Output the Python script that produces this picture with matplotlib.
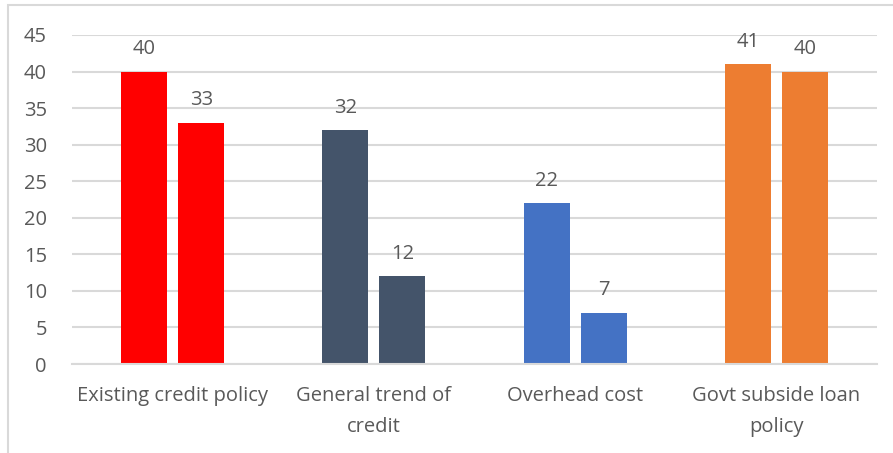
import matplotlib.pyplot as plt
import numpy as np

categories = ["Existing credit policy", "General trend of\ncredit", "Overhead cost", "Govt subside loan\npolicy"]
first_values = [40, 32, 22, 41]
second_values = [33, 12, 7, 40]
bar_colors = ["#FF0000", "#44546A", "#4472C4", "#ED7D31"]
y_ticks = list(range(0, 50, 5))

plt.rcParams['font.family'] = ['Open Sans', 'DejaVu Sans']
text_color = '#595959'
grid_color = '#D9D9D9'
fsize = 14.5

fig = plt.figure(figsize=(8.93, 4.53), dpi=100)
# chart border like the Excel frame
fig.patches.append(plt.Rectangle((8 / 893, -0.01), 1.0, 1.0 - 5.5 / 453 + 0.01,
                                 transform=fig.transFigure, fill=False,
                                 edgecolor=grid_color, linewidth=1.5))
ax = fig.add_axes([72 / 893, (453 - 364) / 453, (877 - 72) / 893, (364 - 35) / 453])

x = np.arange(len(categories))
width = 0.229
offset = 0.142

bars1 = ax.bar(x - offset, first_values, width, color=bar_colors, zorder=3)
bars2 = ax.bar(x + offset, second_values, width, color=bar_colors, zorder=3)

for bars in (bars1, bars2):
    for b in bars:
        ax.annotate(f"{int(b.get_height())}", (b.get_x() + b.get_width() / 2, b.get_height()),
                    xytext=(0, 9), textcoords='offset points', ha='center', va='bottom',
                    fontsize=fsize, color=text_color)

ax.set_xlim(-0.5, len(categories) - 0.5)
ax.set_ylim(0, 45)
ax.set_yticks(y_ticks)
ax.set_xticks(x)
ax.set_xticklabels(categories, fontsize=fsize, color=text_color, linespacing=1.7)
ax.tick_params(axis='y', labelsize=fsize, labelcolor=text_color, length=0, pad=18)
ax.tick_params(axis='x', length=0, pad=16)
for lbl in ax.get_yticklabels():
    lbl.set_horizontalalignment('right')

ax.grid(axis='y', color=grid_color, linewidth=1.5, zorder=0)
for side in ('top', 'right', 'left'):
    ax.spines[side].set_visible(False)
ax.spines['bottom'].set_color(grid_color)
ax.spines['bottom'].set_linewidth(1.5)
ax.spines['bottom'].set_zorder(4)

fig.savefig('out.png', dpi=100)
